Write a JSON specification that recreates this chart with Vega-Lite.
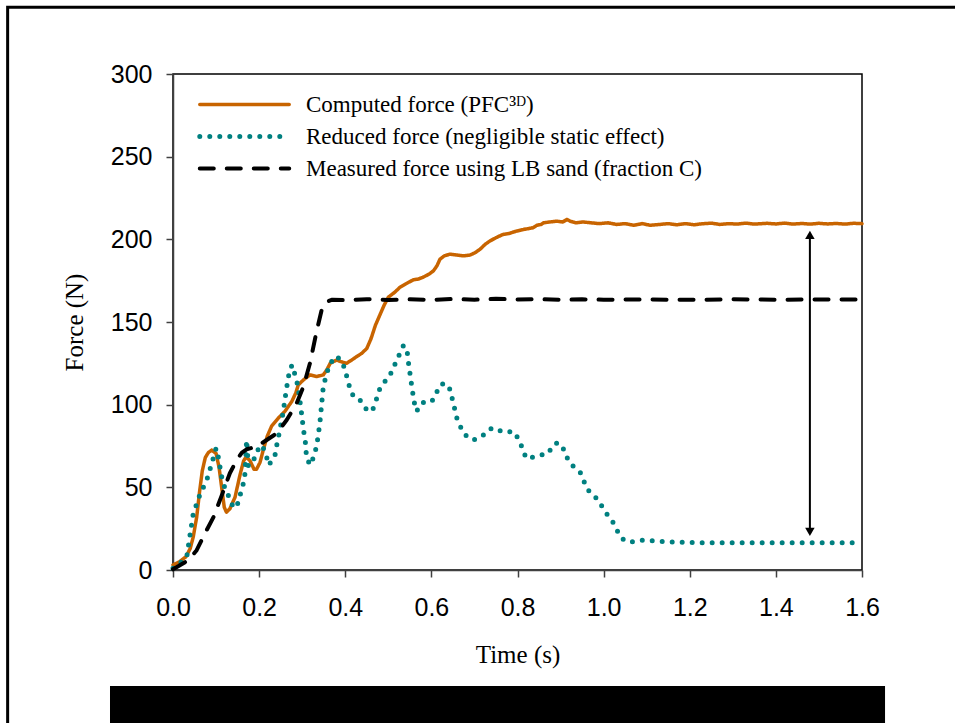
{
  "$schema": "https://vega.github.io/schema/vega-lite/v6.json",
  "width": 689,
  "height": 496,
  "autosize": {"type": "none"},
  "padding": {"left": 173, "top": 74, "right": 93, "bottom": 153},
  "background": "white",
  "config": {
    "view": {"stroke": "black", "strokeWidth": 1.5},
    "axis": {
      "grid": false,
      "labelFlush": false,
      "labelFont": "Liberation Sans",
      "labelFontSize": 25,
      "labelColor": "black",
      "titleFont": "Liberation Serif",
      "titleFontSize": 25,
      "titleFontWeight": "normal",
      "titleColor": "black",
      "domainColor": "#404040",
      "domainWidth": 1.5,
      "tickColor": "#404040",
      "tickWidth": 1.5,
      "tickSize": 7
    },
    "legend": {
      "labelFont": "Liberation Serif",
      "labelFontSize": 23,
      "labelColor": "black",
      "labelLimit": 600
    }
  },
  "layer": [
    {
      "data": {"values": [{"name": "frame"}]},
      "mark": {"type": "rect", "fillOpacity": 0, "stroke": "black", "strokeWidth": 3},
      "encoding": {
        "x": {"datum": -0.384, "type": "quantitative"},
        "x2": {"datum": 1.95},
        "y": {"datum": 340.3, "type": "quantitative"},
        "y2": {"datum": -130}
      }
    },
    {
      "data": {"values": [{"name": "box"}]},
      "mark": {"type": "rect", "fill": "black"},
      "encoding": {
        "x": {"datum": -0.1463, "type": "quantitative"},
        "x2": {"datum": 1.6535},
        "y": {"datum": -70.2, "type": "quantitative"},
        "y2": {"datum": -110}
      }
    },
    {
      "data": {
        "values": [
          {"series":"c","time":0,"force":3},{"series":"c","time":0.015,"force":5},{"series":"c","time":0.03,"force":8},{"series":"c","time":0.04,"force":13},{"series":"c","time":0.047,"force":20},{"series":"c","time":0.055,"force":32},{"series":"c","time":0.062,"force":48},{"series":"c","time":0.068,"force":60},{"series":"c","time":0.075,"force":68},{"series":"c","time":0.082,"force":71},{"series":"c","time":0.09,"force":72.5},{"series":"c","time":0.1,"force":70.5},{"series":"c","time":0.107,"force":62},{"series":"c","time":0.113,"force":50},{"series":"c","time":0.119,"force":38},{"series":"c","time":0.124,"force":35},{"series":"c","time":0.132,"force":37},{"series":"c","time":0.144,"force":44},{"series":"c","time":0.156,"force":58},{"series":"c","time":0.164,"force":66},{"series":"c","time":0.17,"force":68.5},{"series":"c","time":0.179,"force":66},{"series":"c","time":0.188,"force":61},{"series":"c","time":0.194,"force":61},{"series":"c","time":0.202,"force":65},{"series":"c","time":0.21,"force":73},{"series":"c","time":0.219,"force":81},{"series":"c","time":0.229,"force":87},{"series":"c","time":0.245,"force":92},{"series":"c","time":0.26,"force":96},{"series":"c","time":0.276,"force":102},{"series":"c","time":0.285,"force":107},{"series":"c","time":0.291,"force":112},{"series":"c","time":0.303,"force":115},{"series":"c","time":0.318,"force":118},{"series":"c","time":0.334,"force":117},{"series":"c","time":0.349,"force":118},{"series":"c","time":0.357,"force":121},{"series":"c","time":0.365,"force":125},{"series":"c","time":0.38,"force":127},{"series":"c","time":0.39,"force":126},{"series":"c","time":0.403,"force":125},{"series":"c","time":0.415,"force":127},{"series":"c","time":0.426,"force":129},{"series":"c","time":0.438,"force":131},{"series":"c","time":0.45,"force":134},{"series":"c","time":0.46,"force":140},{"series":"c","time":0.47,"force":148},{"series":"c","time":0.48,"force":154},{"series":"c","time":0.49,"force":160},{"series":"c","time":0.5,"force":165},{"series":"c","time":0.515,"force":168},{"series":"c","time":0.527,"force":171},{"series":"c","time":0.54,"force":173},{"series":"c","time":0.558,"force":175.5},{"series":"c","time":0.57,"force":176},{"series":"c","time":0.58,"force":177},{"series":"c","time":0.595,"force":179},{"series":"c","time":0.605,"force":181},{"series":"c","time":0.613,"force":184},{"series":"c","time":0.62,"force":188},{"series":"c","time":0.63,"force":190},{"series":"c","time":0.643,"force":191},{"series":"c","time":0.66,"force":190.5},{"series":"c","time":0.675,"force":190},{"series":"c","time":0.69,"force":190.5},{"series":"c","time":0.702,"force":192},{"series":"c","time":0.713,"force":194},{"series":"c","time":0.725,"force":197},{"series":"c","time":0.736,"force":199},{"series":"c","time":0.75,"force":201},{"series":"c","time":0.767,"force":203},{"series":"c","time":0.78,"force":203.5},{"series":"c","time":0.798,"force":205},{"series":"c","time":0.815,"force":206},{"series":"c","time":0.836,"force":207},{"series":"c","time":0.845,"force":208.5},{"series":"c","time":0.855,"force":209},{"series":"c","time":0.86,"force":210},{"series":"c","time":0.875,"force":210.5},{"series":"c","time":0.891,"force":211},{"series":"c","time":0.905,"force":210.5},{"series":"c","time":0.915,"force":212},{"series":"c","time":0.922,"force":211},{"series":"c","time":0.935,"force":210},{"series":"c","time":0.953,"force":210.5},{"series":"c","time":0.97,"force":210},{"series":"c","time":0.99,"force":209.5},{"series":"c","time":1.01,"force":210},{"series":"c","time":1.03,"force":209},{"series":"c","time":1.05,"force":209.5},{"series":"c","time":1.07,"force":208.5},{"series":"c","time":1.09,"force":209.5},{"series":"c","time":1.108,"force":208.5},{"series":"c","time":1.13,"force":209},{"series":"c","time":1.15,"force":209.5},{"series":"c","time":1.17,"force":208.8},{"series":"c","time":1.19,"force":209.5},{"series":"c","time":1.21,"force":208.8},{"series":"c","time":1.224,"force":209.3},{"series":"c","time":1.25,"force":209.8},{"series":"c","time":1.27,"force":209},{"series":"c","time":1.29,"force":209.5},{"series":"c","time":1.31,"force":209.2},{"series":"c","time":1.33,"force":209.8},{"series":"c","time":1.35,"force":209.2},{"series":"c","time":1.379,"force":209.7},{"series":"c","time":1.4,"force":209.3},{"series":"c","time":1.42,"force":209.8},{"series":"c","time":1.44,"force":209.2},{"series":"c","time":1.46,"force":209.6},{"series":"c","time":1.48,"force":209.2},{"series":"c","time":1.5,"force":209.7},{"series":"c","time":1.52,"force":209.3},{"series":"c","time":1.54,"force":209.6},{"series":"c","time":1.56,"force":209.2},{"series":"c","time":1.58,"force":209.7},{"series":"c","time":1.6,"force":209.5},
          {"series":"r","time":0,"force":1},{"series":"r","time":0.016,"force":4},{"series":"r","time":0.032,"force":8},{"series":"r","time":0.04,"force":22},{"series":"r","time":0.047,"force":34},{"series":"r","time":0.063,"force":46},{"series":"r","time":0.078,"force":54},{"series":"r","time":0.09,"force":64.5},{"series":"r","time":0.1,"force":73.6},{"series":"r","time":0.105,"force":68.5},{"series":"r","time":0.113,"force":56.5},{"series":"r","time":0.12,"force":50},{"series":"r","time":0.128,"force":45.4},{"series":"r","time":0.136,"force":40},{"series":"r","time":0.144,"force":37.3},{"series":"r","time":0.15,"force":40},{"series":"r","time":0.156,"force":45.4},{"series":"r","time":0.163,"force":52},{"series":"r","time":0.167,"force":58},{"series":"r","time":0.171,"force":78.6},{"series":"r","time":0.175,"force":63},{"series":"r","time":0.183,"force":64},{"series":"r","time":0.194,"force":70.6},{"series":"r","time":0.202,"force":75.6},{"series":"r","time":0.21,"force":73.6},{"series":"r","time":0.2175,"force":68.5},{"series":"r","time":0.221,"force":63.5},{"series":"r","time":0.229,"force":65.5},{"series":"r","time":0.237,"force":69.6},{"series":"r","time":0.241,"force":75.6},{"series":"r","time":0.248,"force":84.7},{"series":"r","time":0.256,"force":95.8},{"series":"r","time":0.262,"force":106.9},{"series":"r","time":0.268,"force":117},{"series":"r","time":0.276,"force":124},{"series":"r","time":0.281,"force":120},{"series":"r","time":0.287,"force":115},{"series":"r","time":0.293,"force":105.8},{"series":"r","time":0.299,"force":93.8},{"series":"r","time":0.303,"force":84.7},{"series":"r","time":0.307,"force":78.6},{"series":"r","time":0.31,"force":68.5},{"series":"r","time":0.318,"force":63.5},{"series":"r","time":0.327,"force":68.5},{"series":"r","time":0.334,"force":75.6},{"series":"r","time":0.341,"force":88.7},{"series":"r","time":0.345,"force":99.8},{"series":"r","time":0.349,"force":110.9},{"series":"r","time":0.357,"force":119},{"series":"r","time":0.365,"force":125},{"series":"r","time":0.38,"force":129.4},{"series":"r","time":0.392,"force":126},{"series":"r","time":0.4,"force":121},{"series":"r","time":0.407,"force":113},{"series":"r","time":0.419,"force":104.8},{"series":"r","time":0.434,"force":102.8},{"series":"r","time":0.45,"force":96.8},{"series":"r","time":0.461,"force":95.8},{"series":"r","time":0.469,"force":99.8},{"series":"r","time":0.477,"force":107.9},{"series":"r","time":0.488,"force":113},{"series":"r","time":0.5,"force":116},{"series":"r","time":0.512,"force":122},{"series":"r","time":0.519,"force":127},{"series":"r","time":0.527,"force":131},{"series":"r","time":0.535,"force":135.7},{"series":"r","time":0.543,"force":134},{"series":"r","time":0.547,"force":125},{"series":"r","time":0.554,"force":112},{"series":"r","time":0.558,"force":105},{"series":"r","time":0.562,"force":99},{"series":"r","time":0.566,"force":96},{"series":"r","time":0.574,"force":100},{"series":"r","time":0.585,"force":102},{"series":"r","time":0.601,"force":102},{"series":"r","time":0.608,"force":105},{"series":"r","time":0.62,"force":112},{"series":"r","time":0.632,"force":113},{"series":"r","time":0.642,"force":110},{"series":"r","time":0.65,"force":102},{"series":"r","time":0.659,"force":92},{"series":"r","time":0.667,"force":87},{"series":"r","time":0.674,"force":83},{"series":"r","time":0.686,"force":80},{"series":"r","time":0.697,"force":78.6},{"series":"r","time":0.709,"force":79.6},{"series":"r","time":0.721,"force":81.7},{"series":"r","time":0.729,"force":84},{"series":"r","time":0.74,"force":85.7},{"series":"r","time":0.752,"force":85.7},{"series":"r","time":0.763,"force":83.7},{"series":"r","time":0.775,"force":83.7},{"series":"r","time":0.794,"force":83.3},{"series":"r","time":0.802,"force":79},{"series":"r","time":0.81,"force":74.6},{"series":"r","time":0.817,"force":69.6},{"series":"r","time":0.825,"force":67},{"series":"r","time":0.837,"force":68.5},{"series":"r","time":0.852,"force":69.6},{"series":"r","time":0.868,"force":70},{"series":"r","time":0.879,"force":73.6},{"series":"r","time":0.887,"force":76.6},{"series":"r","time":0.899,"force":76.6},{"series":"r","time":0.906,"force":73.6},{"series":"r","time":0.914,"force":68.5},{"series":"r","time":0.922,"force":64.5},{"series":"r","time":0.933,"force":61.9},{"series":"r","time":0.945,"force":59.5},{"series":"r","time":0.953,"force":54.4},{"series":"r","time":0.96,"force":50.4},{"series":"r","time":0.968,"force":46.8},{"series":"r","time":0.98,"force":44.4},{"series":"r","time":0.992,"force":40.3},{"series":"r","time":1.0,"force":36.7},{"series":"r","time":1.009,"force":33.3},{"series":"r","time":1.019,"force":30.2},{"series":"r","time":1.027,"force":26.2},{"series":"r","time":1.034,"force":22.6},{"series":"r","time":1.042,"force":19.2},{"series":"r","time":1.054,"force":17.1},{"series":"r","time":1.073,"force":17.1},{"series":"r","time":1.092,"force":18.1},{"series":"r","time":1.108,"force":17.7},{"series":"r","time":1.146,"force":17.1},{"series":"r","time":1.224,"force":16.5},{"series":"r","time":1.301,"force":16.5},{"series":"r","time":1.379,"force":16.5},{"series":"r","time":1.6,"force":16.5},
          {"series":"m","time":0,"force":0.4},{"series":"m","time":0.036,"force":6},{"series":"m","time":0.055,"force":12},{"series":"m","time":0.074,"force":22},{"series":"m","time":0.094,"force":32},{"series":"m","time":0.113,"force":45},{"series":"m","time":0.132,"force":58.5},{"series":"m","time":0.148,"force":66.5},{"series":"m","time":0.16,"force":71},{"series":"m","time":0.171,"force":73},{"series":"m","time":0.194,"force":74.6},{"series":"m","time":0.2175,"force":78.6},{"series":"m","time":0.241,"force":82.7},{"series":"m","time":0.264,"force":90.7},{"series":"m","time":0.287,"force":100.8},{"series":"m","time":0.303,"force":111},{"series":"m","time":0.318,"force":125},{"series":"m","time":0.334,"force":145},{"series":"m","time":0.345,"force":157},{"series":"m","time":0.355,"force":162},{"series":"m","time":0.37,"force":163.5},{"series":"m","time":0.4,"force":163.2},{"series":"m","time":0.45,"force":163.8},{"series":"m","time":0.5,"force":163.3},{"series":"m","time":0.55,"force":163.7},{"series":"m","time":0.6,"force":163.4},{"series":"m","time":0.65,"force":163.9},{"series":"m","time":0.7,"force":163.5},{"series":"m","time":0.75,"force":164},{"series":"m","time":0.8,"force":163.6},{"series":"m","time":0.85,"force":163.8},{"series":"m","time":0.9,"force":163.4},{"series":"m","time":0.95,"force":163.7},{"series":"m","time":1.0,"force":163.5},{"series":"m","time":1.1,"force":163.6},{"series":"m","time":1.2,"force":163.4},{"series":"m","time":1.3,"force":163.7},{"series":"m","time":1.4,"force":163.5},{"series":"m","time":1.5,"force":163.6},{"series":"m","time":1.6,"force":163.6}
        ]
      },
      "mark": {"type": "line", "strokeCap": "round", "strokeJoin": "round"},
      "encoding": {
        "x": {
          "field": "time",
          "type": "quantitative",
          "scale": {"domain": [0, 1.6], "nice": false, "zero": false},
          "axis": {"values": [0, 0.2, 0.4, 0.6, 0.8, 1.0, 1.2, 1.4, 1.6], "format": ".1f", "labelPadding": 18, "title": "Time (s)", "titlePadding": 22}
        },
        "y": {
          "field": "force",
          "type": "quantitative",
          "scale": {"domain": [0, 300], "nice": false},
          "axis": {"values": [0, 50, 100, 150, 200, 250, 300], "labelPadding": 14, "title": "Force (N)", "titlePadding": 23}
        },
        "color": {
          "field": "series",
          "type": "nominal",
          "scale": {"domain": ["c", "r", "m"], "range": ["#c86400", "#008080", "#000000"]},
          "legend": {
            "title": null,
            "orient": "none",
            "legendX": 24,
            "legendY": 19,
            "padding": 0,
            "symbolType": "stroke",
            "symbolSize": 8000,
            "clipHeight": 23,
            "labelOffset": 14,
            "rowPadding": 8,
            "labelExpr": "datum.value == 'c' ? 'Computed force (PFC³ᴰ)' : datum.value == 'r' ? 'Reduced force (negligible static effect)' : 'Measured force using LB sand (fraction C)'",
            "encode": {"symbols": {"update": {"strokeCap": {"value": "round"}}}}
          }
        },
        "strokeDash": {
          "field": "series",
          "type": "nominal",
          "scale": {"domain": ["c", "r", "m"], "range": [[1, 0], [0, 10], [14, 13]]}
        },
        "strokeWidth": {
          "field": "series",
          "type": "nominal",
          "scale": {"type": "ordinal", "domain": ["c", "r", "m"], "range": [3.5, 5, 4]}
        }
      }
    },
    {
      "data": {"values": [{"name": "arrow"}]},
      "mark": {"type": "rule", "color": "black", "strokeWidth": 2},
      "encoding": {
        "x": {"datum": 1.479, "type": "quantitative"},
        "y": {"datum": 203, "type": "quantitative"},
        "y2": {"datum": 22}
      }
    },
    {
      "data": {"values": [{"head": "top", "force": 202.7, "shape": "triangle-up"}, {"head": "bottom", "force": 23, "shape": "triangle-down"}]},
      "mark": {"type": "point", "filled": true, "color": "black", "opacity": 1, "size": 90},
      "encoding": {
        "x": {"datum": 1.479, "type": "quantitative"},
        "y": {"field": "force", "type": "quantitative"},
        "shape": {"field": "shape", "type": "nominal", "scale": null, "legend": null}
      }
    }
  ]
}
